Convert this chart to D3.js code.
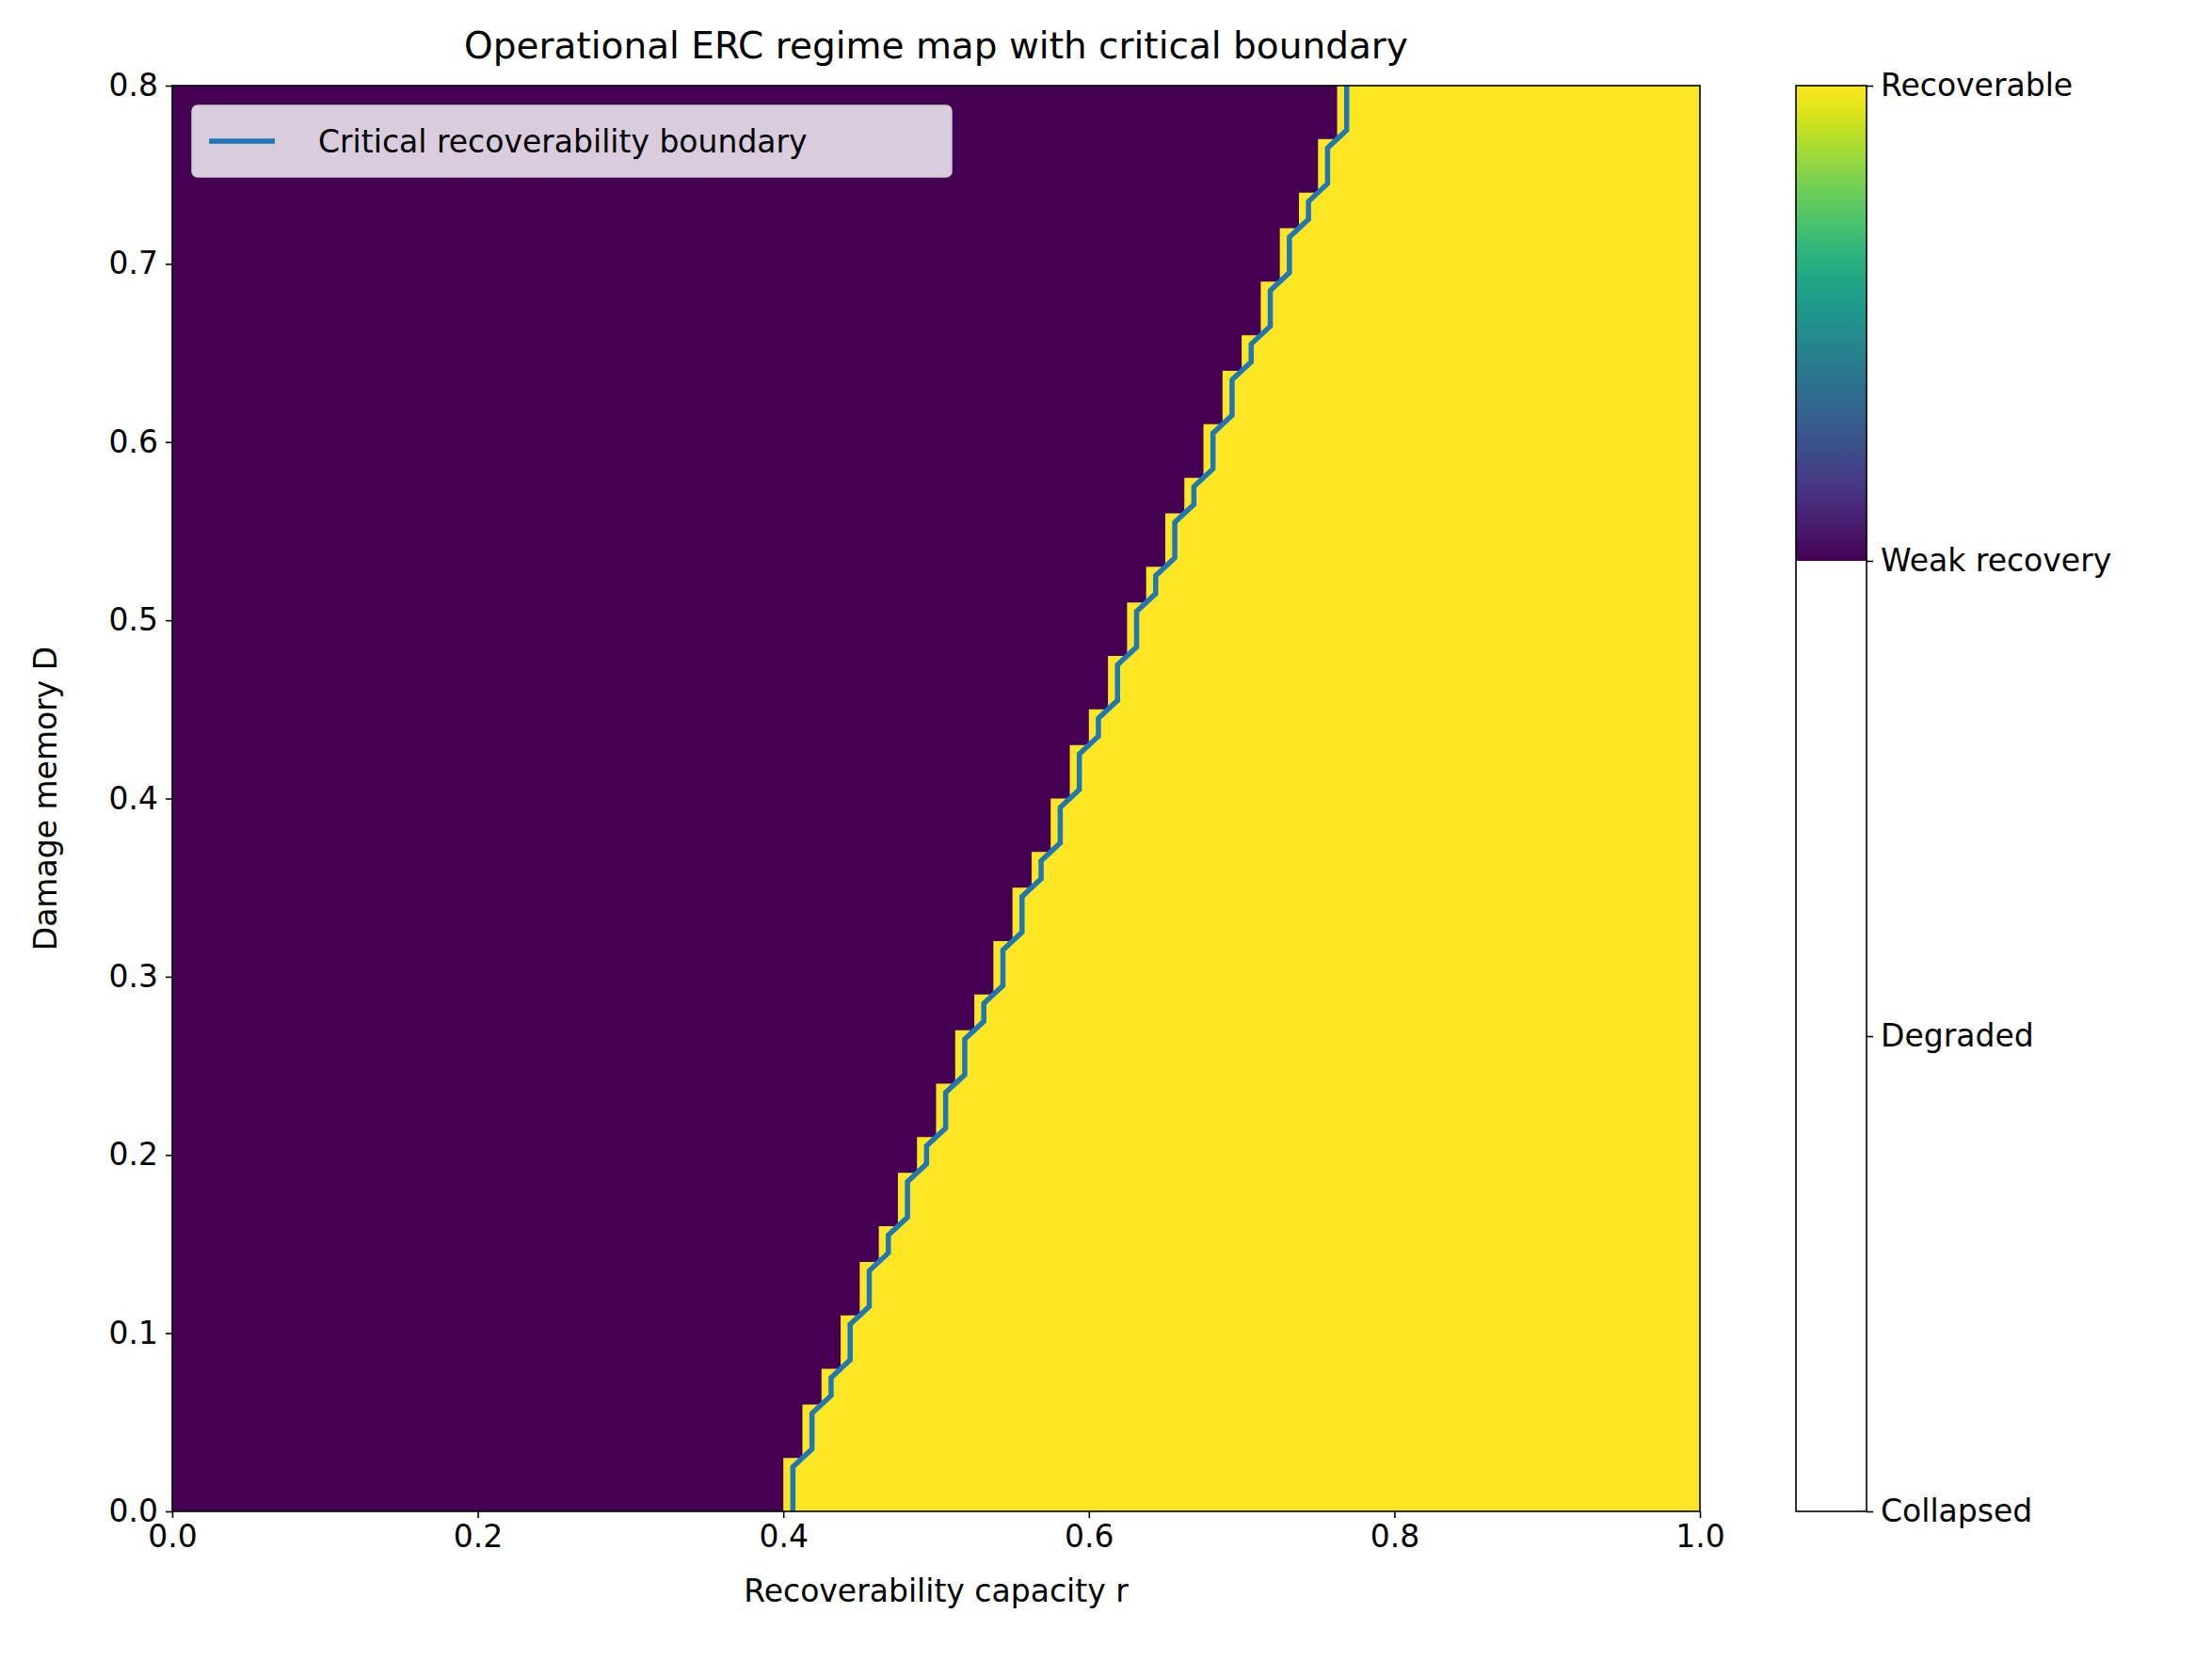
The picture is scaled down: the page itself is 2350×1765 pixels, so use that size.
<!DOCTYPE html>
<html><head><meta charset="utf-8">
<script src="https://cdn.jsdelivr.net/npm/d3@7"></script>
<style>body{margin:0;background:#fff}text{font-family:"DejaVu Sans",sans-serif;fill:#000}</style>
</head><body><svg id="c" width="2350" height="1765"></svg>
<script>
// Data: stair columns (first recoverable r) and the top D of each stair
const stairR = d3.range(30).map(i => 0.4 + 0.0125 * i);
const stairDTop = [0.03,0.06,0.08,0.11,0.14,0.16,0.19,0.21,0.24,0.27,0.29,0.32,0.35,0.37,0.40,0.43,0.45,0.48,0.51,0.53,0.56,0.58,0.61,0.64,0.66,0.69,0.72,0.74,0.77,0.80];
const xTicks = [0,0.2,0.4,0.6,0.8,1.0];
const yTicks = [0,0.1,0.2,0.3,0.4,0.5,0.6,0.7,0.8];
const regimeLabels = ["Collapsed","Degraded","Weak recovery","Recoverable"];
const cellW = 0.0125, cellH = 0.01;

const svg = d3.select("#c");
const L=183,R=1806,T=91,B=1606;
const x = d3.scaleLinear().domain([0,1]).range([L,R]);
const y = d3.scaleLinear().domain([0,0.8]).range([B,T]);
const g = svg.append("g");
g.append("rect").attr("x",L).attr("y",T).attr("width",R-L).attr("height",B-T).attr("fill","#440154");
const pts=[[1,0],[stairR[0],0]];
stairR.forEach((r,i)=>{pts.push([r,stairDTop[i]]); if(i<stairR.length-1) pts.push([stairR[i+1],stairDTop[i]]);});
pts.push([1,0.8]);
g.append("path").attr("d",d3.line().x(d=>x(d[0])).y(d=>y(d[1]))(pts)+"Z").attr("fill","#fde725");
// boundary contour
const bp=[];
stairR.forEach((r,i)=>{
  const lo = i===0?0:stairDTop[i-1]+cellH/2, hi = i===stairR.length-1?0.8:stairDTop[i]-cellH/2;
  bp.push([r+cellW/2,lo]); bp.push([r+cellW/2,hi]);
});
g.append("path").attr("d",d3.line().x(d=>x(d[0])).y(d=>y(d[1]))(bp)).attr("fill","none").attr("stroke","#1f77b4").attr("stroke-width",5.5);
g.append("rect").attr("x",L).attr("y",T).attr("width",R-L).attr("height",B-T).attr("fill","none").attr("stroke","#000").attr("stroke-width",1.6);
const xa=svg.append("g").attr("transform",`translate(0,${B})`).call(d3.axisBottom(x).tickValues(xTicks).tickFormat(d3.format(".1f")).tickSize(7).tickPadding(8));
const ya=svg.append("g").attr("transform",`translate(${L},0)`).call(d3.axisLeft(y).tickValues(yTicks).tickFormat(d3.format(".1f")).tickSize(7).tickPadding(8));
[xa,ya].forEach(a=>{a.select(".domain").remove();a.selectAll("text").style("font-size","33px").style("font-family","DejaVu Sans");a.selectAll("line").attr("stroke-width",1.6);});
svg.append("text").attr("x",(L+R)/2).attr("y",62).attr("text-anchor","middle").style("font-size","39px").text("Operational ERC regime map with critical boundary");
svg.append("text").attr("x",(L+R)/2).attr("y",1702).attr("text-anchor","middle").style("font-size","33px").text("Recoverability capacity r");
svg.append("text").attr("transform",`translate(60,${(T+B)/2}) rotate(-90)`).attr("text-anchor","middle").style("font-size","33px").text("Damage memory D");
// legend
svg.append("rect").attr("x",204).attr("y",112).attr("width",807).attr("height",76).attr("rx",6).attr("fill","#fff").attr("fill-opacity",0.8).attr("stroke","#ccc").attr("stroke-width",1.5);
svg.append("line").attr("x1",222).attr("x2",292).attr("y1",150).attr("y2",150).attr("stroke","#1f77b4").attr("stroke-width",5.5);
svg.append("text").attr("x",338).attr("y",162).style("font-size","33px").text("Critical recoverability boundary");
// colorbar
const cL=1908,cR=1983;
const cy=d3.scaleLinear().domain([0,3]).range([B,T]);
const defs=svg.append("defs");
const gr=defs.append("linearGradient").attr("id","vir").attr("x1",0).attr("x2",0).attr("y1",1).attr("y2",0);
d3.range(0,1.001,0.05).forEach(t=>gr.append("stop").attr("offset",t).attr("stop-color",d3.interpolateViridis(t)));
svg.append("rect").attr("x",cL).attr("y",cy(3)).attr("width",cR-cL).attr("height",cy(2)-cy(3)).attr("fill","url(#vir)");
svg.append("rect").attr("x",cL).attr("y",T).attr("width",cR-cL).attr("height",B-T).attr("fill","none").attr("stroke","#000").attr("stroke-width",1.6);
const ca=svg.append("g").attr("transform",`translate(${cR},0)`).call(d3.axisRight(cy).tickValues([0,1,2,3]).tickFormat(d=>regimeLabels[d]).tickSize(7).tickPadding(8));
ca.select(".domain").remove();ca.selectAll("text").style("font-size","33px").style("font-family","DejaVu Sans");ca.selectAll("line").attr("stroke-width",1.6);
</script></body></html>
